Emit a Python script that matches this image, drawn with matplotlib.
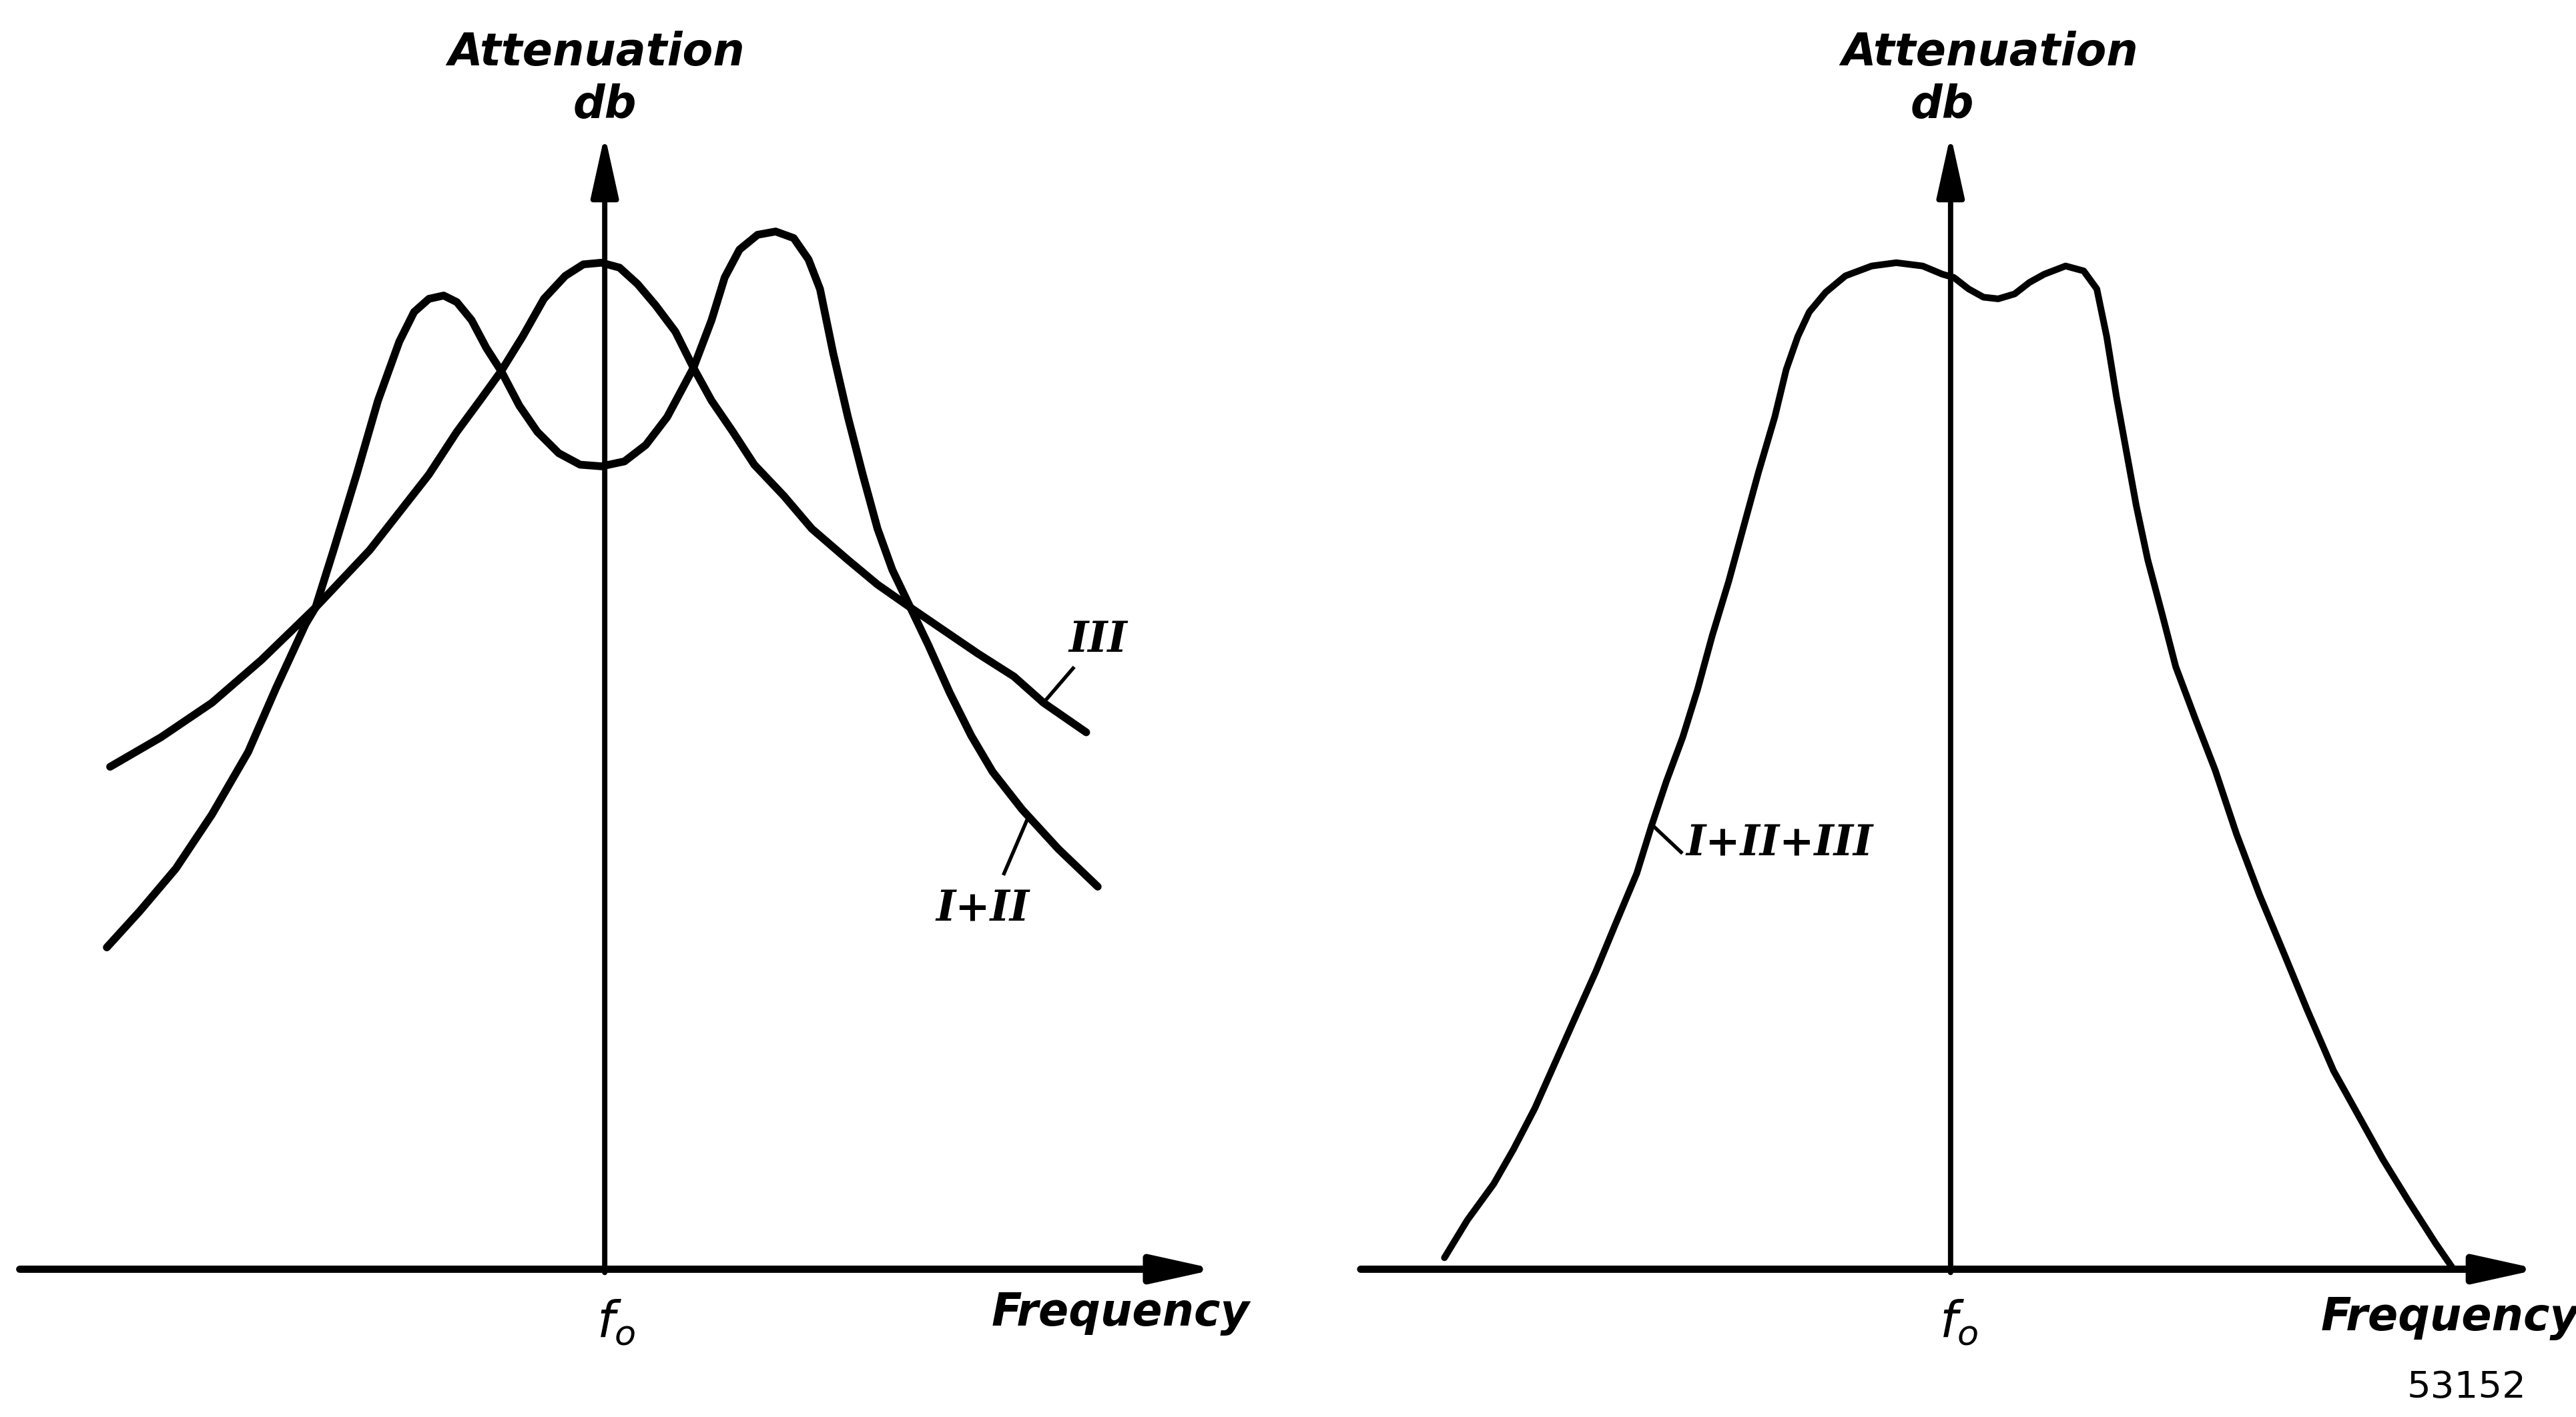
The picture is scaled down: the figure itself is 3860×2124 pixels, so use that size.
import matplotlib.pyplot as plt

# frequency offset from f0 and attenuation (arbitrary units)
# left panel: curve I+II (two humps) and curve III (one hump)
freq_12 = [-3.03, -2.83, -2.61, -2.39, -2.17, -2.00, -1.82, -1.76, -1.65, -1.51, -1.38,
           -1.25, -1.16, -1.07, -0.98, -0.90, -0.81, -0.72, -0.63, -0.52, -0.41, -0.28,
           -0.15, -0.02, 0.12, 0.25, 0.38, 0.54, 0.65, 0.73, 0.82, 0.93, 1.04, 1.15,
           1.24, 1.31, 1.39, 1.48, 1.57, 1.66, 1.75, 1.86, 1.97, 2.10, 2.23, 2.36,
           2.54, 2.76, 3.00]
att_12 = [1.96, 2.18, 2.44, 2.77, 3.15, 3.54, 3.93, 4.03, 4.38, 4.84, 5.29,
          5.65, 5.83, 5.91, 5.93, 5.89, 5.78, 5.61, 5.47, 5.26, 5.10, 4.97,
          4.90, 4.89, 4.92, 5.02, 5.19, 5.49, 5.78, 6.04, 6.21, 6.30, 6.32, 6.28,
          6.15, 5.97, 5.58, 5.19, 4.84, 4.51, 4.26, 4.03, 3.80, 3.51, 3.25, 3.03,
          2.80, 2.56, 2.33]

freq_3 = [-3.01, -2.70, -2.39, -2.09, -1.76, -1.43, -1.25, -1.07, -0.90, -0.76, -0.63,
          -0.50, -0.37, -0.24, -0.13, -0.02, 0.09, 0.20, 0.31, 0.43, 0.54, 0.65,
          0.78, 0.91, 1.09, 1.26, 1.48, 1.66, 1.86, 2.05, 2.27, 2.49, 2.67, 2.93]
att_3 = [3.06, 3.24, 3.45, 3.71, 4.03, 4.38, 4.61, 4.84, 5.10, 5.29, 5.47,
         5.68, 5.91, 6.05, 6.12, 6.13, 6.10, 6.00, 5.87, 5.71, 5.49, 5.29,
         5.10, 4.90, 4.71, 4.51, 4.32, 4.17, 4.03, 3.90, 3.75, 3.61, 3.45, 3.27]

# right panel: resulting curve I+II+III
freq_123 = [-3.08, -2.94, -2.78, -2.66, -2.53, -2.41, -2.29, -2.16, -2.04, -1.91, -1.82,
            -1.73, -1.63, -1.54, -1.45, -1.35, -1.26, -1.17, -1.07, -1.00, -0.93,
            -0.86, -0.76, -0.64, -0.48, -0.33, -0.17, -0.05, 0.02, 0.11, 0.20, 0.29,
            0.39, 0.48, 0.57, 0.70, 0.81, 0.89, 0.95, 1.01, 1.07, 1.13, 1.20, 1.29,
            1.37, 1.49, 1.61, 1.74, 1.88, 2.03, 2.17, 2.33, 2.48, 2.63, 2.79, 2.95,
            3.06]
att_123 = [0.07, 0.30, 0.52, 0.73, 0.98, 1.25, 1.52, 1.81, 2.10, 2.41, 2.70,
           2.97, 3.24, 3.53, 3.86, 4.19, 4.52, 4.85, 5.19, 5.48, 5.68,
           5.83, 5.95, 6.05, 6.11, 6.13, 6.11, 6.06, 6.04, 5.97, 5.92, 5.91,
           5.94, 6.01, 6.06, 6.11, 6.08, 5.97, 5.68, 5.31, 4.98, 4.65, 4.32, 3.98,
           3.67, 3.35, 3.04, 2.65, 2.28, 1.92, 1.58, 1.21, 0.94, 0.67, 0.41, 0.16,
           0.00]

lw_left = 2.8
lw_right = 2.4
txt_font = dict(family='DejaVu Sans', style='italic', weight='bold', fontsize=16)
num_font = dict(family='DejaVu Serif', style='italic', weight='bold', fontsize=15)

fig = plt.figure(figsize=(3861 / 300, 2124 / 300), dpi=300)
ax1 = fig.add_axes([0, 0, 0.5, 1])
ax2 = fig.add_axes([0.5, 0, 0.5, 1])
ax1.set_xlim(-3.68, 4.16)
ax2.set_xlim(-4.03, 3.81)
for ax in (ax1, ax2):
    ax.set_ylim(-0.90, 7.73)
    ax.axis('off')


def draw_axes(ax, x0, x1, ytop):
    style = '-|>,head_length=1.9,head_width=0.42'
    ax.annotate('', xy=(x1, 0), xytext=(x0, 0),
                arrowprops=dict(arrowstyle=style, color='black', lw=2.6,
                                mutation_scale=10, shrinkA=0, shrinkB=0))
    ax.annotate('', xy=(0, ytop), xytext=(0, -0.02),
                arrowprops=dict(arrowstyle=style, color='black', lw=1.9,
                                mutation_scale=10, shrinkA=0, shrinkB=0))


def curve(ax, x, y, lw):
    ax.plot(x, y, color='black', lw=lw, solid_capstyle='round', solid_joinstyle='round')


# left panel
draw_axes(ax1, -3.56, 3.72, 6.91)
curve(ax1, freq_12, att_12, lw_left)
curve(ax1, freq_3, att_3, lw_left)
ax1.text(-0.05, 7.41, 'Attenuation', ha='center', va='center', **txt_font)
ax1.text(0.0, 7.09, 'db', ha='center', va='center', **txt_font)
ax1.text(3.14, -0.27, 'Frequency', ha='center', va='center', **txt_font)
ax1.text(0.07, -0.33, '$f_o$', ha='center', va='center', fontsize=18)
ax1.plot([2.67, 2.85], [3.45, 3.66], color='black', lw=1.3)
ax1.text(3.00, 3.83, 'III', ha='center', va='center', **num_font)
ax1.plot([2.58, 2.43], [2.76, 2.41], color='black', lw=1.3)
ax1.text(2.30, 2.19, 'I+II', ha='center', va='center', **num_font)

# right panel
draw_axes(ax2, -3.59, 3.58, 6.91)
curve(ax2, freq_123, att_123, lw_right)
ax2.text(0.24, 7.41, 'Attenuation', ha='center', va='center', **txt_font)
ax2.text(-0.05, 7.09, 'db', ha='center', va='center', **txt_font)
ax2.text(3.04, -0.30, 'Frequency', ha='center', va='center', **txt_font)
ax2.text(0.05, -0.33, '$f_o$', ha='center', va='center', fontsize=18)
ax2.text(3.14, -0.72, '53152', ha='center', va='center', family='DejaVu Sans',
         fontsize=13.5)
ax2.plot([-1.81, -1.64], [2.70, 2.54], color='black', lw=1.3)
ax2.text(-1.61, 2.59, 'I+II+III', ha='left', va='center', **num_font)

fig.savefig('out.png', dpi=300, facecolor='white')
